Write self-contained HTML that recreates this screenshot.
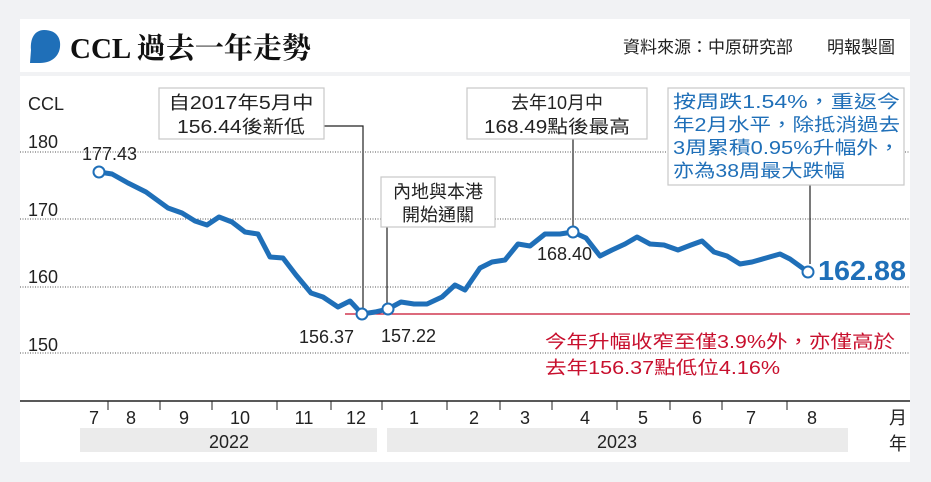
<!DOCTYPE html>
<html><head><meta charset="utf-8"><style>
body{margin:0;background:#f1f2f4;}
svg{display:block;}
text{font-family:"Liberation Sans","Noto Sans CJK TC",sans-serif;}
</style></head><body>
<svg width="931" height="482" viewBox="0 0 931 482" xmlns="http://www.w3.org/2000/svg">
<rect width="931" height="482" fill="#f1f2f4"/>
<rect x="20" y="19" width="890" height="53" fill="#fff"/>
<rect x="20" y="76" width="890" height="386" fill="#fff"/>
<path d="M44 30 C58 30 61 40 60 47 C59 56 52 63 40 63 L30 63 L31 50 C30 38 35 30 44 30Z" fill="#1f6fb8"/>
<text x="70" y="58" style="font-family:'Liberation Serif','Noto Serif CJK SC',serif;font-weight:bold;font-size:29px" fill="#111">CCL 過去一年走勢</text>
<text x="895" y="53" font-size="17" text-anchor="end" fill="#222">資料來源：中原研究部　　明報製圖</text>

<g stroke="#555" stroke-width="1" stroke-dasharray="1,1.5">
<line x1="20" y1="152" x2="910" y2="152"/>
<line x1="20" y1="219" x2="910" y2="219"/>
<line x1="20" y1="287" x2="910" y2="287"/>
<line x1="20" y1="353" x2="910" y2="353"/>
</g>
<g font-size="18" fill="#222">
<text x="28" y="110">CCL</text>
<text x="28" y="148">180</text>
<text x="28" y="216">170</text>
<text x="28" y="283">160</text>
<text x="28" y="351">150</text>
</g>
<line x1="345" y1="314" x2="910" y2="314" stroke="#c8102e" stroke-width="1.2"/>

<line x1="20" y1="401" x2="910" y2="401" stroke="#222" stroke-width="1.5"/>
<g stroke="#222" stroke-width="1">
<line x1="108" y1="401" x2="108" y2="410"/><line x1="160" y1="401" x2="160" y2="410"/>
<line x1="212" y1="401" x2="212" y2="410"/><line x1="277" y1="401" x2="277" y2="410"/>
<line x1="331" y1="401" x2="331" y2="410"/><line x1="382" y1="401" x2="382" y2="410"/>
<line x1="447" y1="401" x2="447" y2="410"/><line x1="500" y1="401" x2="500" y2="410"/>
<line x1="552" y1="401" x2="552" y2="410"/><line x1="617" y1="401" x2="617" y2="410"/>
<line x1="670" y1="401" x2="670" y2="410"/><line x1="722" y1="401" x2="722" y2="410"/>
<line x1="787" y1="401" x2="787" y2="410"/>
</g>
<g font-size="18" fill="#222" text-anchor="middle">
<text x="94" y="424">7</text><text x="131" y="424">8</text><text x="184" y="424">9</text>
<text x="240" y="424">10</text><text x="304" y="424">11</text><text x="356" y="424">12</text>
<text x="414" y="424">1</text><text x="474" y="424">2</text><text x="525" y="424">3</text>
<text x="585" y="424">4</text><text x="643" y="424">5</text><text x="697" y="424">6</text>
<text x="751" y="424">7</text><text x="812" y="424">8</text><text x="898" y="424">月</text>
<text x="898" y="450">年</text>
</g>
<rect x="80" y="428" width="297" height="24" fill="#ebebeb"/>
<rect x="387" y="428" width="461" height="24" fill="#ebebeb"/>
<text x="229" y="448" font-size="18" text-anchor="middle" fill="#222">2022</text>
<text x="617" y="448" font-size="18" text-anchor="middle" fill="#222">2023</text>

<g stroke="#222" stroke-width="1.2" fill="none">
<polyline points="324,126 363,126 363,312"/>
<line x1="387" y1="227" x2="387" y2="307"/>
<line x1="573" y1="139" x2="573" y2="230"/>
<line x1="810" y1="185" x2="810" y2="264"/>
</g>

<polyline fill="none" stroke="#1f6fb8" stroke-width="5" stroke-linejoin="round" points="99,172 112,174 128,183 146,192 168,208 182,213 195,221 207,225 219,217 232,222 245,232 258,234 270,257 283,258 296,275 311,293 323,297 338,307 350,301 362,314 375,312 388,309 401,302 414,304 427,304 442,297 455,285 465,290 480,268 492,262 505,260 518,244 530,246 545,234 560,234 573,232 586,238 600,256 612,250 625,244 637,237 650,244 664,245 678,250 691,245 702,241 714,252 727,256 740,264 752,262 766,258 780,254 790,259 808,272"/>
<g fill="#fff" stroke="#1f6fb8" stroke-width="2">
<circle cx="99" cy="172" r="5.5"/><circle cx="362" cy="314" r="5.5"/>
<circle cx="388" cy="309" r="5.5"/><circle cx="573" cy="232" r="5.5"/>
<circle cx="808" cy="272" r="5.5"/>
</g>
<g font-size="18" fill="#222">
<text x="82" y="160">177.43</text>
<text x="299" y="343">156.37</text>
<text x="381" y="342">157.22</text>
<text x="537" y="260">168.40</text>
</g>
<text x="818" y="280" font-size="28" font-weight="bold" fill="#1f6fb8" textLength="88" lengthAdjust="spacingAndGlyphs">162.88</text>

<g fill="#fff" stroke="#c8c8c8" stroke-width="1.2">
<rect x="159" y="88" width="165" height="51"/>
<rect x="381" y="177" width="114" height="50"/>
<rect x="467" y="88" width="180" height="51"/>
<rect x="668" y="88" width="236" height="97"/>
</g>
<g font-size="18" fill="#222" text-anchor="middle">
<text x="241" y="109" textLength="145" lengthAdjust="spacingAndGlyphs">自2017年5月中</text>
<text x="241" y="133" textLength="128" lengthAdjust="spacingAndGlyphs">156.44後新低</text>
<text x="438" y="198">內地與本港</text>
<text x="438" y="221">開始通關</text>
<text x="557" y="109">去年10月中</text>
<text x="557" y="133" textLength="146" lengthAdjust="spacingAndGlyphs">168.49點後最高</text>
</g>
<g font-size="18" fill="#1f6fb8">
<text x="673" y="108" textLength="227" lengthAdjust="spacingAndGlyphs">按周跌1.54%，重返今</text>
<text x="673" y="131" textLength="227" lengthAdjust="spacingAndGlyphs">年2月水平，除抵消過去</text>
<text x="673" y="154" textLength="227" lengthAdjust="spacingAndGlyphs">3周累積0.95%升幅外，</text>
<text x="673" y="177" textLength="172" lengthAdjust="spacingAndGlyphs">亦為38周最大跌幅</text>
</g>
<g font-size="18" fill="#c8102e">
<text x="545" y="348" textLength="350" lengthAdjust="spacingAndGlyphs">今年升幅收窄至僅3.9%外，亦僅高於</text>
<text x="545" y="374" textLength="235" lengthAdjust="spacingAndGlyphs">去年156.37點低位4.16%</text>
</g>
</svg>
</body></html>
